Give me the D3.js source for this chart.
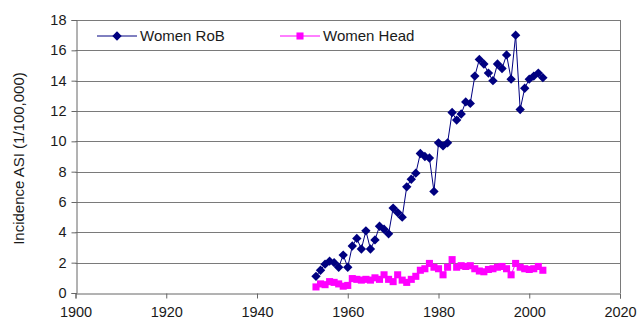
<!DOCTYPE html>
<html>
<head>
<meta charset="utf-8">
<script src="https://cdn.jsdelivr.net/npm/d3@7"></script>
<style>
  html, body { margin: 0; padding: 0; background: #fff; }
  svg { display: block; font-family: "Liberation Sans", Arial, sans-serif; }
</style>
</head>
<body>
<svg id="chart" width="640" height="329"></svg>
<script>
// Yearly incidence of ASI per 100,000 women
const years = d3.range(1953, 2004);
const womenRoB = [
  1.1, 1.5, 1.9, 2.1, 2.0, 1.7, 2.5, 1.7, 3.1, 3.6,
  2.9, 4.1, 2.9, 3.5, 4.4, 4.2, 3.9, 5.6, 5.3, 5.0,
  7.0, 7.5, 7.9, 9.2, 9.0, 8.9, 6.7, 9.9, 9.7, 9.9,
  11.9, 11.4, 11.8, 12.6, 12.5, 14.3, 15.4, 15.1, 14.5, 14.0,
  15.1, 14.8, 15.7, 14.1, 17.0, 12.1, 13.5, 14.1, 14.3, 14.5,
  14.2
];
const womenHead = [
  0.4, 0.6, 0.55, 0.75, 0.7, 0.6, 0.45, 0.5, 0.95, 0.9,
  0.85, 0.9, 0.85, 1.0, 0.9, 1.2, 0.9, 0.75, 1.2, 0.85,
  0.7, 0.9, 1.1, 1.5, 1.6, 1.95, 1.7, 1.6, 1.2, 1.7,
  2.2, 1.7, 1.8, 1.75, 1.8, 1.6, 1.45, 1.4, 1.55, 1.6,
  1.7, 1.75, 1.6, 1.2, 1.95, 1.7, 1.6, 1.55, 1.6, 1.75,
  1.5
];
const xTicks = [1900, 1920, 1940, 1960, 1980, 2000, 2020];
const yTicks = [0, 2, 4, 6, 8, 10, 12, 14, 16, 18];
const seriesNames = ["Women RoB", "Women Head"];

const svg = d3.select("#chart");
const m = { left: 75.5, right: 620, top: 20, bottom: 293 };

const x = d3.scaleLinear().domain([1900, 2020]).range([m.left, m.right]);
const y = d3.scaleLinear().domain([0, 18]).range([m.bottom, m.top]);

const gridColor = "#7a7a7a";
const textColor = "#1a1a1a";

// horizontal gridlines
svg.append("g").selectAll("line").data(yTicks.filter(v => v > 0)).join("line")
  .attr("x1", m.left).attr("x2", m.right)
  .attr("y1", d => Math.round(y(d)) + 0.5).attr("y2", d => Math.round(y(d)) + 0.5)
  .attr("stroke", gridColor).attr("stroke-width", 1);

// right border of plot area
svg.append("line")
  .attr("x1", Math.round(m.right) + 0.5).attr("x2", Math.round(m.right) + 0.5)
  .attr("y1", m.top).attr("y2", m.bottom)
  .attr("stroke", gridColor);

// y axis
const yAxis = svg.append("g")
  .attr("transform", `translate(${Math.round(m.left) + 0.5},0)`)
  .call(d3.axisLeft(y).tickValues(yTicks).tickSize(5).tickPadding(5).tickFormat(d3.format("d")));
yAxis.select(".domain").attr("stroke", "#666");
yAxis.selectAll(".tick line").attr("stroke", "#666");
yAxis.selectAll(".tick text").attr("fill", textColor)
  .style("font-size", "14.5px").style("font-family", "Liberation Sans, Arial, sans-serif");

// x axis
const xAxis = svg.append("g")
  .attr("transform", `translate(0,${Math.round(m.bottom) + 0.5})`)
  .call(d3.axisBottom(x).tickValues(xTicks).tickSize(5).tickPadding(8).tickFormat(d3.format("d")));
xAxis.select(".domain").attr("stroke", "#666");
xAxis.selectAll(".tick line").attr("stroke", "#666");
xAxis.selectAll(".tick text").attr("fill", textColor)
  .style("font-size", "14.5px").style("font-family", "Liberation Sans, Arial, sans-serif");

// y axis title
svg.append("text")
  .attr("transform", `translate(24,${(m.top + m.bottom) / 2 + 2}) rotate(-90)`)
  .attr("text-anchor", "middle")
  .attr("fill", textColor)
  .style("font-size", "15px")
  .text("Incidence ASI (1/100,000)");

const diamond = d3.symbol().type(d3.symbolDiamond2).size(56);
const square = d3.symbol().type(d3.symbolSquare).size(50);

function drawSeries(values, color, sym) {
  const pts = years.map((yr, i) => [yr, values[i]]);
  svg.append("path")
    .datum(pts)
    .attr("fill", "none")
    .attr("stroke", color)
    .attr("stroke-width", 1)
    .attr("d", d3.line().x(d => x(d[0])).y(d => y(d[1])));
  svg.append("g").selectAll("path").data(pts).join("path")
    .attr("transform", d => `translate(${x(d[0])},${y(d[1])})`)
    .attr("d", sym)
    .attr("fill", color);
}

drawSeries(womenHead, "#ff00ff", square);
drawSeries(womenRoB, "#000080", diamond);

// legend
const legend = svg.append("g");
const legendItems = [
  { name: seriesNames[0], color: "#000080", sym: diamond, x0: 97 },
  { name: seriesNames[1], color: "#ff00ff", sym: square, x0: 280 }
];
legendItems.forEach(it => {
  const g = legend.append("g").attr("transform", `translate(${it.x0},36)`);
  g.append("line").attr("x1", 0).attr("x2", 40).attr("y1", 0).attr("y2", 0)
    .attr("stroke", it.color).attr("stroke-width", 1);
  g.append("path").attr("transform", "translate(20,0)").attr("d", it.sym).attr("fill", it.color);
  g.append("text").attr("x", 43).attr("y", 5).attr("fill", textColor)
    .style("font-size", "15px").text(it.name);
});
</script>
</body>
</html>
